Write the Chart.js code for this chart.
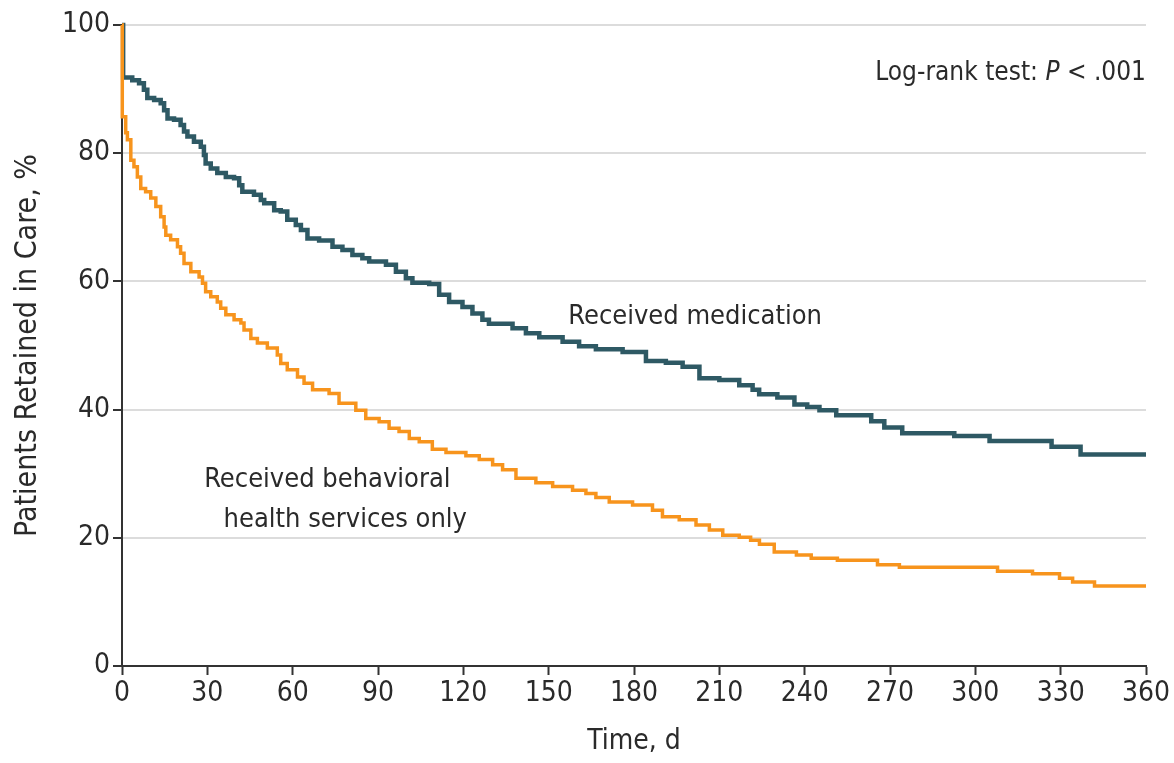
<!DOCTYPE html>
<html>
<head>
<meta charset="utf-8">
<script src="https://cdn.jsdelivr.net/npm/chart.js@4.4.1/dist/chart.umd.min.js"></script>
<style>
  html, body { margin: 0; padding: 0; background: #fff; }
</style>
</head>
<body>
<canvas id="myChart" width="1174" height="763"></canvas>
<script>
'use strict'

// Kaplan-Meier steps (day, % retained)
const medDays = [0, 0.4, 3.6, 6, 7.7, 8.9, 11.3, 13.6, 14.8, 16, 18.3, 20.6, 21.8, 23, 25.3, 27.7, 28.8, 29.4, 31.2, 33.5,
  36.5, 39.4, 41.2, 42.3, 46.4, 48.8, 50, 53.5, 55.8, 58.1, 61.1, 62.9, 65.2, 69.3,
  74, 77.5, 81, 84.5, 86.9, 92.8, 96.3, 99.8, 102.1, 108, 111.5, 115, 119.7, 123.2, 126.7, 129, 137.3, 142, 146.7, 154.9,
  160.7, 166.6, 176, 184.2, 191.2, 197.1, 203, 210, 217, 221.7, 224, 230.4, 236.4, 240.9, 245.2, 251.1, 263.4, 268, 274.3,
  292.6, 305, 326.8, 337, 360]
const medPct = [100, 91.8, 91.4, 90.9, 89.9, 88.6, 88.3, 87.8, 86.7, 85.4, 85.2, 84.4, 83.4, 82.6, 81.8, 81, 79.7, 78.4, 77.6, 76.9,
  76.3, 76.1, 75, 74, 73.5, 72.7, 72.2, 71.1, 70.9, 69.6, 68.8, 68, 66.7, 66.4,
  65.4, 64.9, 64.1, 63.6, 63.1, 62.6, 61.5, 60.5, 59.8, 59.6, 57.9, 56.8, 56, 55, 54, 53.4, 52.7, 51.9, 51.3, 50.6,
  49.9, 49.4, 49.0, 47.6, 47.3, 46.7, 44.9, 44.6, 43.8, 43.1, 42.4, 41.9, 40.8, 40.4, 39.9, 39.1, 38.2, 37.2, 36.3,
  35.9, 35.1, 34.2, 33.0, 33.0]

const bhDays = [0, 0.1, 1.3, 1.9, 3.1, 4.2, 5.4, 6.6, 8.3, 10.1, 11.9, 13.6, 14.8, 15.4, 17.1, 19.5, 20.6, 21.8, 24.2, 27.1,
  28.3, 29.4, 31.2, 33.5, 34.7, 36.5, 39.4, 41.8, 42.9, 45.3, 47.6, 51.1, 54.6, 55.8, 58.1, 61.7, 64, 67,
  72.8, 76.3, 82.2, 85.7, 90.4, 93.9, 97.4, 101, 104.5, 109.1, 113.9, 120.9, 125.6,
  130.3, 133.8, 138.5, 145.5, 151.4, 158.4, 163.1, 166.6, 171.3, 179.5, 186.5, 190, 195.9, 201.8, 206.5, 211.2, 217, 221,
  224.1, 229.3, 237.1, 242.3, 251.5, 265.6, 273.3, 307.8, 320.1, 329.6, 334.2, 341.9, 360]
const bhPct = [100, 85.7, 83.2, 82.1, 78.9, 77.9, 76.3, 74.5, 74.0, 73.0, 71.7, 70.1, 68.5, 67.2, 66.5, 65.4, 64.4, 62.8, 61.5, 60.7,
  59.7, 58.4, 57.6, 56.8, 55.8, 54.8, 54, 53.5, 52.4, 51.1, 50.4, 49.6, 48.5, 47.2, 46.2, 45.1, 44.1, 43.1,
  42.5, 41, 39.9, 38.6, 38.1, 37.1, 36.6, 35.5, 35, 33.8, 33.3, 32.8, 32.2,
  31.4, 30.6, 29.3, 28.6, 28, 27.4, 26.9, 26.3, 25.6, 25.1, 24.3, 23.3, 22.8, 22, 21.2, 20.4, 20.1, 19.6,
  19.0, 17.8, 17.3, 16.8, 16.5, 15.8, 15.4, 14.8, 14.4, 13.7, 13.1, 12.5, 12.5]

const xTicks = [0, 30, 60, 90, 120, 150, 180, 210, 240, 270, 300, 330, 360]
const yTicks = [0, 20, 40, 60, 80, 100]

const FONT = "'Liberation Sans Narrow', 'DejaVu Sans Condensed', 'Roboto Condensed', sans-serif"
const TEXT = '#2a2a2a'
const AXIS = '#333333'

const toPts = (xs, ys) => xs.map((d, i) => ({ x: d, y: ys[i] }))

// curve labels and test result, placed in data units
const notes = {
  id: 'notes',
  afterDatasetsDraw(chart) {
    const { ctx, scales: { x, y } } = chart
    ctx.save()
    ctx.fillStyle = TEXT
    ctx.textBaseline = 'middle'
    ctx.font = '27px ' + FONT
    ctx.textAlign = 'center'
    ctx.fillText('Received medication', x.getPixelForValue(201.5), y.getPixelForValue(54.5))
    ctx.fillText('Received behavioral', x.getPixelForValue(72.2), y.getPixelForValue(29))
    ctx.fillText('health services only', x.getPixelForValue(78.5), y.getPixelForValue(22.8))

    // "Log-rank test: P < .001" with italic P, right aligned
    const yy = y.getPixelForValue(92.5)
    const xr = x.getPixelForValue(360)
    ctx.textAlign = 'left'
    const a = 'Log-rank test: ', p = 'P', b = ' < .001'
    ctx.font = '26px ' + FONT
    const wa = ctx.measureText(a).width, wb = ctx.measureText(b).width
    ctx.font = 'italic 26px ' + FONT
    const wp = ctx.measureText(p).width
    const x0 = xr - wa - wp - wb
    ctx.font = '26px ' + FONT
    ctx.fillText(a, x0, yy)
    ctx.font = 'italic 26px ' + FONT
    ctx.fillText(p, x0 + wa, yy)
    ctx.font = '26px ' + FONT
    ctx.fillText(b, x0 + wa + wp, yy)
    ctx.restore()
  }
}

const ctx = document.getElementById('myChart')
new Chart(ctx, {
  type: 'line',
  data: {
    datasets: [{
      label: 'Received behavioral health services only',
      data: toPts(bhDays, bhPct),
      stepped: true,
      borderColor: '#f7941d',
      borderWidth: 3.5,
      pointRadius: 0,
      fill: false,
      clip: false
    }, {
      label: 'Received medication',
      data: toPts(medDays, medPct),
      stepped: true,
      borderColor: '#2e5964',
      borderWidth: 4.5,
      pointRadius: 0,
      fill: false,
      clip: false
    }]
  },
  options: {
    responsive: false,
    animation: false,
    devicePixelRatio: 1,
    layout: { padding: { top: 25, right: 28, left: 0, bottom: 0 } },
    plugins: {
      legend: { display: false },
      tooltip: { enabled: false }
    },
    scales: {
      x: {
        type: 'linear',
        min: 0,
        max: 360,
        afterBuildTicks: (s) => { s.ticks = xTicks.map(v => ({ value: v })) },
        afterFit: (s) => { s.height = 97 },
        border: { color: AXIS, width: 2 },
        grid: { drawOnChartArea: false, drawTicks: true, tickLength: 9, tickColor: AXIS, tickWidth: 2 },
        ticks: { color: TEXT, font: { family: FONT, size: 28 }, padding: 2, maxRotation: 0 },
        title: { display: true, text: 'Time, d', color: TEXT, font: { family: FONT, size: 28 }, padding: { top: 4 } }
      },
      y: {
        min: 0,
        max: 100,
        afterBuildTicks: (s) => { s.ticks = yTicks.map(v => ({ value: v })) },
        afterFit: (s) => { s.width = 122 },
        border: { color: AXIS, width: 2 },
        grid: {
          color: (c) => c.tick && c.tick.value === 0 ? 'rgba(0,0,0,0)' : '#dcdcdc',
          lineWidth: 2,
          drawTicks: true,
          tickLength: 9,
          tickColor: AXIS,
          tickWidth: 2
        },
        ticks: { color: TEXT, font: { family: FONT, size: 28 }, padding: 3 },
        title: { display: true, text: 'Patients Retained in Care, %', color: TEXT, font: { family: FONT, size: 30 }, padding: { top: 10, bottom: 4 } }
      }
    }
  },
  plugins: [notes]
})
</script>
</body>
</html>
